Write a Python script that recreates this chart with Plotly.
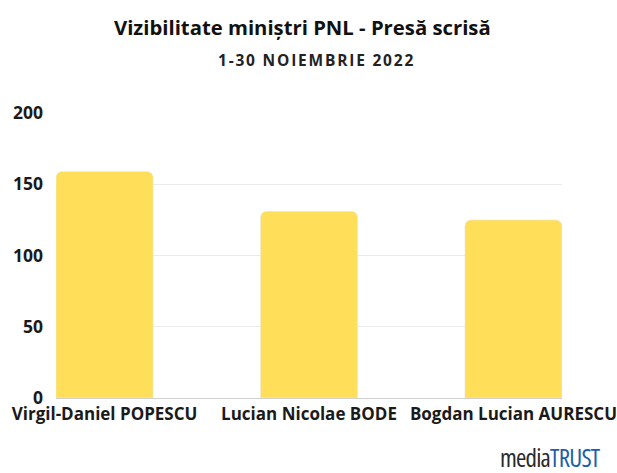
import plotly.graph_objects as go

categories = ["Virgil-Daniel POPESCU", "Lucian Nicolae BODE", "Bogdan Lucian AURESCU"]
values = [159, 131, 125]
y_ticks = [0, 50, 100, 150, 200]

W, H = 617, 473
ML, MR, MT, MB = 56, 55, 113, 75

fig = go.Figure(go.Bar(
    x=list(range(len(categories))), y=values, marker_color="#FFDE59",
    width=0.475, hoverinfo="skip"))

fig.update_layout(
    width=W, height=H,
    margin=dict(l=ML, r=MR, t=MT, b=MB, autoexpand=False),
    paper_bgcolor="white", plot_bgcolor="white",
    barcornerradius=6,
    showlegend=False,
    font=dict(family="Open Sans", color="#1a1a1a"),
    xaxis=dict(range=[-0.2375, 2.2375], tickmode="array",
               tickvals=list(range(len(categories))), ticktext=categories,
               tickfont=dict(size=17, family="Open Sans", weight="bold", color="#1a1a1a"),
               showgrid=False, zeroline=False, showline=False, ticks="", ticklen=0,
               ticklabelstandoff=4),
    yaxis=dict(range=[0, 200], tickvals=y_ticks, showgrid=True, gridcolor="#ebebeb",
               gridwidth=1, zeroline=True, zerolinecolor="#d0d0d0", zerolinewidth=1,
               tickfont=dict(size=17.5, family="Open Sans", weight="bold", color="#1a1a1a"),
               ticks="", ticklabelstandoff=12),
)

pw = W - ML - MR
ph = H - MT - MB

def ann(text, px, py, size, family="Open Sans", color="#111111", pad=1):
    fig.add_annotation(text=text, xref="paper", yref="paper",
                       x=(px - ML) / pw, y=(H - MB - py) / ph,
                       xanchor="center", yanchor="middle", showarrow=False,
                       borderpad=pad,
                       font=dict(size=size, family=family, color=color))

ann("<b>Vizibilitate miniștri PNL - Presă scrisă</b>", 302, 27, 20.3)
ann("<b><span style='letter-spacing:1.8px'>1-30 NOIEMBRIE 2022</span></b>", 316, 60, 15.5, color="#222222")
ann("<span style='color:#2a2a2a;font-stretch:62.5%;letter-spacing:-0.8px'>media</span>"
    "<span style='color:#1f5fa6;font-stretch:62.5%;letter-spacing:-0.8px'>TRUST</span>",
    550, 456.5, 25, family="Open Sans", pad=0)

fig.write_html("out.html", config={"displayModeBar": False},
               post_script="document.body.style.margin='0';document.body.style.padding='0';")
